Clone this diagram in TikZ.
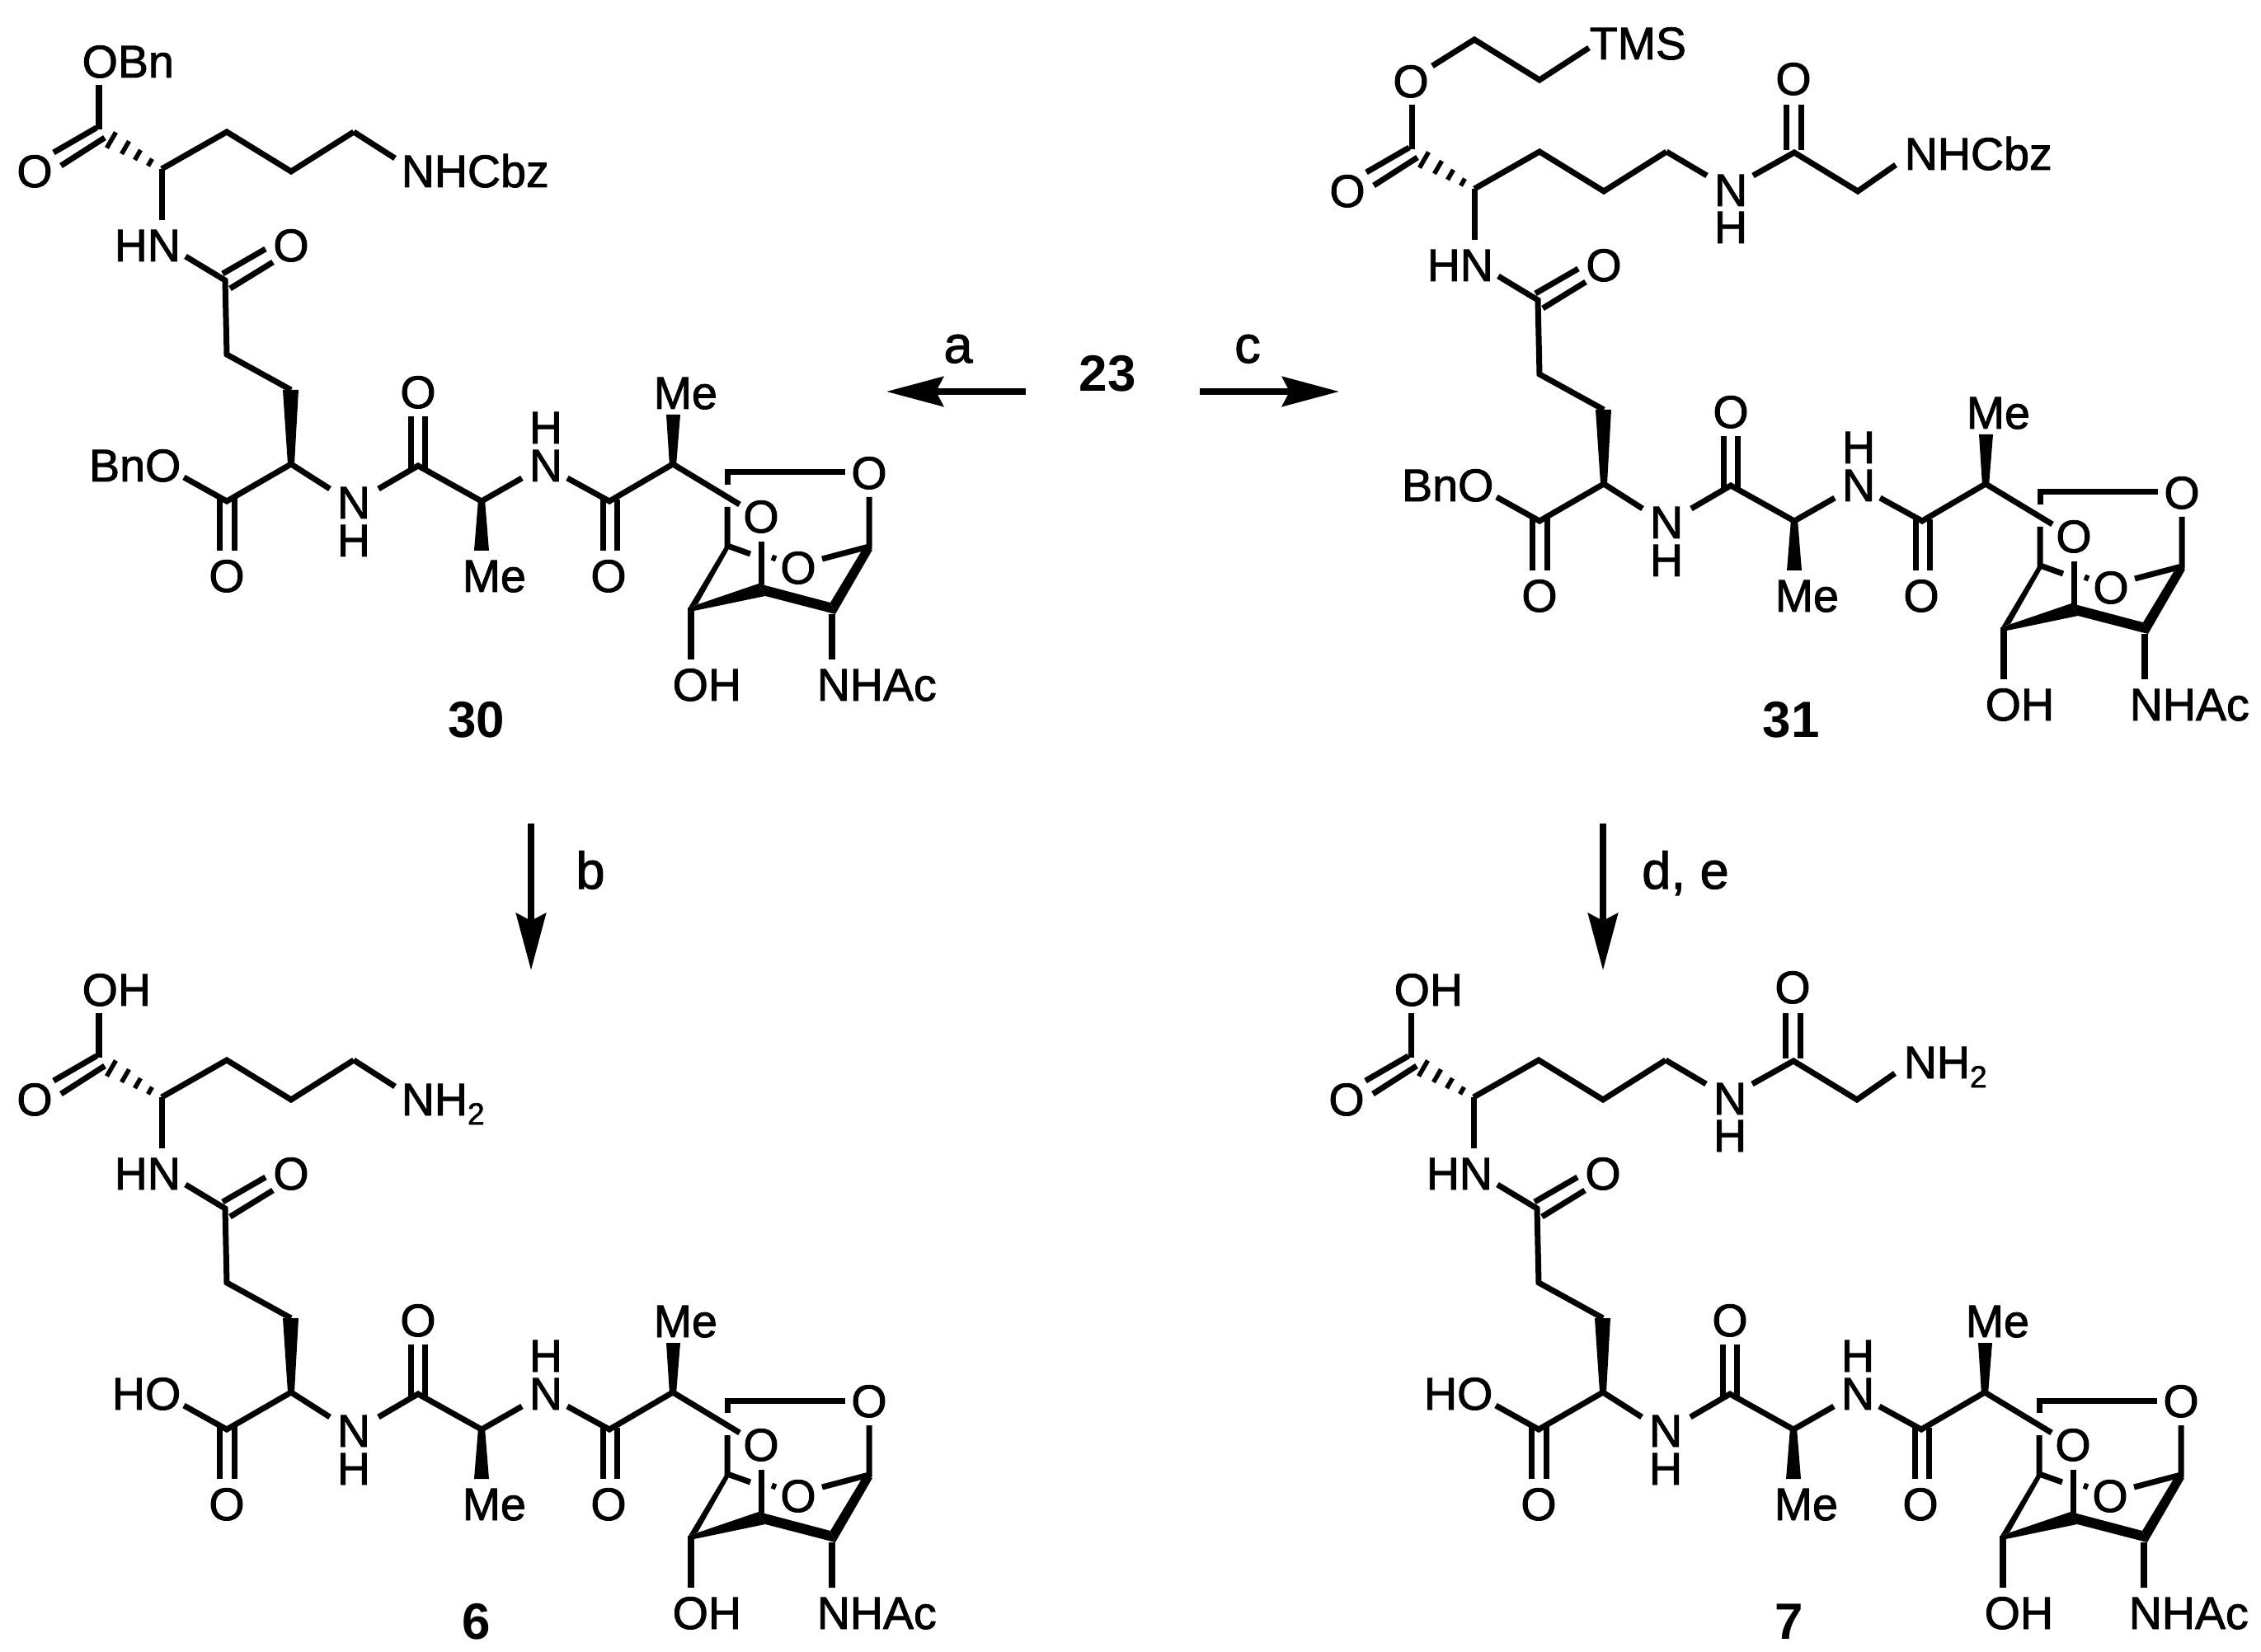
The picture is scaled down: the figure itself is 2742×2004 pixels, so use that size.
\documentclass[tikz,border=0pt]{standalone}
\usepackage{fontspec}
\setmainfont{Liberation Sans}
\newfontfamily\atomfont[FakeBold=1.6]{Liberation Sans}
\usetikzlibrary{arrows.meta}
\newcommand{\subtwo}{\raisebox{-0.2em}{\fontsize{10.6}{12}\selectfont 2}}
\tikzset{
  bond/.style={line width=0.07cm},
  stembond/.style={line width=0.08cm},
  hashbond/.style={line width=0.055cm},
  wedgebond/.style={fill=black},
  atomtext/.style={font=\atomfont\fontsize{15.8}{18}\selectfont, inner sep=0pt, anchor=base},
  atomleft/.style={atomtext, anchor=base west},
  atomright/.style={atomtext, anchor=base east},
  cmpdno/.style={font=\fontsize{17.6}{20}\selectfont\bfseries, inner sep=0pt, anchor=base},
  reagent/.style={font=\atomfont\fontsize{18}{20}\selectfont, inner sep=0pt, anchor=base},
  rxnarrow/.style={line width=0.077cm, -{Stealth[length=0.69cm,width=0.36cm,inset=0.09cm]}}
}
\begin{document}
\begin{tikzpicture}[x=0.01cm, y=-0.01cm]
\useasboundingbox (0,0) rectangle (2742,2004);

% Part shared by all four structures
\foreach \cmpd/\dx/\dy/\sideO in {m30/0/0/BnO, m6/0/1126/HO, m31/1592/24/BnO, m7/1591/1126/HO}{
\begin{scope}[shift={(\dx,\dy)}, name prefix=\cmpd-]
  \foreach \atom/\x/\y in {ec/120/157, ecO/120/103, ca/196/205, c1/275/160, c2/353/208, c3/429/160,
      na/196/267, am1/225/311, am2/273/340, c5/275/430, c6/353/473, c7/353/563, c8/275/608, c9/223/579,
      n1a/400/593, n1b/459/593, c10/507/565, c11/584/608, n2a/633/580, n2b/688/580, c12/739/608,
      c13/816/563, c14/897/612,
      dA1/65/185, dA2/117/155, dB1/74/201, dB2/127/167, dC1/270/332, dC2/322/302, dD1/279/350, dD2/331/318,
      dE1/266/604, dE2/266/668, dF1/284/604, dF2/284/668, dG1/498/570, dG2/498/505, dH1/515/570, dH2/515/505,
      dI1/731/606, dI2/731/668, dJ1/748/606, dJ2/748/668,
      rA/882/573, rB/1025/573, rC/882/588, rD/882/615, rE/882/662, rF/910/672, rG/923/657, rH/923/710,
      rI/1054/603, rJ/1054/663, rK/997/678, rL/936/676, rM/941/678,
      rN/838/737, rO/838/800, rP/1009/745, rQ/1009/800}{
    \coordinate (\atom) at (\x,\y);
  }
  % Chains and carbonyls
  \draw[bond] (ecO) -- (ec);
  \draw[bond] (ca) -- (c1) -- (c2) -- (c3);
  \draw[bond] (ca) -- (na);
  \draw[bond] (am1) -- (am2) -- (c5) -- (c6);
  \draw[bond] (c9) -- (c8) -- (c7) -- (n1a);
  \draw[bond] (n1b) -- (c10) -- (c11) -- (n2a);
  \draw[bond] (n2b) -- (c12) -- (c13) -- (c14);
  \draw[bond] (dA1) -- (dA2);
  \draw[bond] (dB1) -- (dB2);
  \draw[bond] (dC1) -- (dC2);
  \draw[bond] (dD1) -- (dD2);
  \draw[bond] (dE1) -- (dE2);
  \draw[bond] (dF1) -- (dF2);
  \draw[bond] (dG1) -- (dG2);
  \draw[bond] (dH1) -- (dH2);
  \draw[bond] (dI1) -- (dI2);
  \draw[bond] (dJ1) -- (dJ2);
  % Hashed and solid wedges
  \foreach \cx/\cy/\hw in {182/197/5, 167/188/7, 152/179/9, 135/170/11}{
    \draw[hashbond] ({\cx+0.5*\hw},{\cy-0.866*\hw}) -- ({\cx-0.5*\hw},{\cy+0.866*\hw});
  }
  \fill[wedgebond] (343,473) -- (362,473) -- (357,563) -- (349,563) -- cycle;
  \fill[wedgebond] (575,668) -- (593,668) -- (588,606) -- (580,606) -- cycle;
  \fill[wedgebond] (808,503) -- (825,503) -- (820,565) -- (812,565) -- cycle;
  % Bicyclic sugar
  \draw[bond] (rC) -- (rA) -- (rB);
  \draw[bond] (rD) -- (rE) -- (rF);
  \draw[bond] (rG) -- (rH);
  \draw[bond] (rI) -- (rJ) -- (rK);
  \draw[bond] (rL) -- (rM);
  \draw[stembond] (rN) -- (rO);
  \draw[stembond] (rP) -- (rQ);
  \fill[wedgebond] (881,660) -- (885,664) -- (846,733) -- (835,737) -- cycle;
  \fill[wedgebond] (835,737) -- (920,708) -- (928,723) -- (837,742) -- cycle;
  \fill[wedgebond] (920,708) -- (1007,731) -- (1013,745) -- (928,723) -- cycle;
  \fill[wedgebond] (1007,731) -- (1048,663) -- (1058,667) -- (1013,745) -- cycle;
  % Atom labels
  \node[atomtext] (oA) at (42,227) {O};
  \node[atomleft] (hnA) at (138,317) {HN};
  \node[atomtext] (oB) at (353,317) {O};
  \node[atomright] (sideEster) at (220,584) {\sideO};
  \node[atomtext] (oC) at (275,718) {O};
  \node[atomtext] (nB) at (429,629) {N};
  \node[atomtext] (hB) at (429,675) {H};
  \node[atomtext] (oD) at (507,495) {O};
  \node[atomleft] (meA) at (560,718) {Me};
  \node[atomtext] (nC) at (662,584) {N};
  \node[atomtext] (hC) at (662,538) {H};
  \node[atomtext] (oE) at (738,718) {O};
  \node[atomleft] (meB) at (792,496) {Me};
  \node[atomtext] (oF) at (1054,593) {O};
  \node[atomtext] (oG) at (923,646) {O};
  \node[atomtext] (oH) at (968,708) {O};
  \node[atomleft] (ohA) at (815,850) {OH};
  \node[atomleft] (nhac) at (990,850) {NHAc};
\end{scope}
}

% Side chain of 30 and 6
\foreach \cmpd/\dy/\topO/\amine in {m30/0/OBn/NHCbz, m6/1126/OH/NH\subtwo}{
\begin{scope}[shift={(0,\dy)}, name prefix=\cmpd-]
  \coordinate (c3x) at (429,160);
  \coordinate (nEnd) at (479,192);
  \draw[bond] (c3x) -- (nEnd);
  \node[atomleft] (topEster) at (99,94) {\topO};
  \node[atomleft] (amine) at (486,227) {\amine};
\end{scope}
}

% Longer side chain of 31 and 7
\foreach \cmpd/\dx/\dy/\amine in {m31/1592/24/NHCbz, m7/1591/1126/NH\subtwo}{
\begin{scope}[shift={(\dx,\dy)}, name prefix=\cmpd-]
  \foreach \atom/\x/\y in {c3x/429/160, nEnd/478/189, gA/534/189, gB/584/161, gC/661/208, gD/707/176,
      gE/574/158, gF/574/103, gG/592/158, gH/592/103}{
    \coordinate (\atom) at (\x,\y);
  }
  \draw[bond] (c3x) -- (nEnd);
  \draw[bond] (gA) -- (gB) -- (gC) -- (gD);
  \draw[bond] (gE) -- (gF);
  \draw[bond] (gG) -- (gH);
  \node[atomtext] (nG) at (507,226) {N};
  \node[atomtext] (hG) at (507,271) {H};
  \node[atomtext] (oGly) at (583,91) {O};
  \node[atomleft] (amine) at (717,182) {\amine};
\end{scope}
}

% Top ester of 31
\begin{scope}[shift={(1592,24)}, name prefix=m31-]
  \foreach \atom/\x/\y in {tA/145/56, tB/196/24, tC/275/73, tD/335/34}{
    \coordinate (\atom) at (\x,\y);
  }
  \draw[bond] (tA) -- (tB) -- (tC) -- (tD);
  \node[atomtext] (topO) at (119,94) {O};
  \node[atomleft] (tms) at (335,48) {TMS};
\end{scope}
\node[atomleft] (m7-topEster) at (1690,1220) {OH};

% Compound numbers
\node[cmpdno] (n30) at (578,895) {30};
\node[cmpdno] (n31) at (2172,895) {31};
\node[cmpdno] (n6) at (578,1988) {6};
\node[cmpdno] (n7) at (2170,1988) {7};
\node[cmpdno] (n23) at (1343,475) {23};

% Reaction arrows
\coordinate (aStart) at (1244,475);
\coordinate (aEnd) at (1075,475);
\coordinate (cStart) at (1455,475);
\coordinate (cEnd) at (1624,475);
\coordinate (bStart) at (644,999);
\coordinate (bEnd) at (644,1177);
\coordinate (deStart) at (1944,999);
\coordinate (deEnd) at (1944,1177);
\draw[rxnarrow] (aStart) -- (aEnd);
\draw[rxnarrow] (cStart) -- (cEnd);
\draw[rxnarrow] (bStart) -- (bEnd);
\draw[rxnarrow] (deStart) -- (deEnd);
\node[reagent] (labelA) at (1162,440) {a};
\node[reagent] (labelC) at (1513,440) {c};
\node[reagent] (labelB) at (716,1078) {b};
\node[reagent] (labelDE) at (2044,1078) {d, e};
\end{tikzpicture}
\end{document}
